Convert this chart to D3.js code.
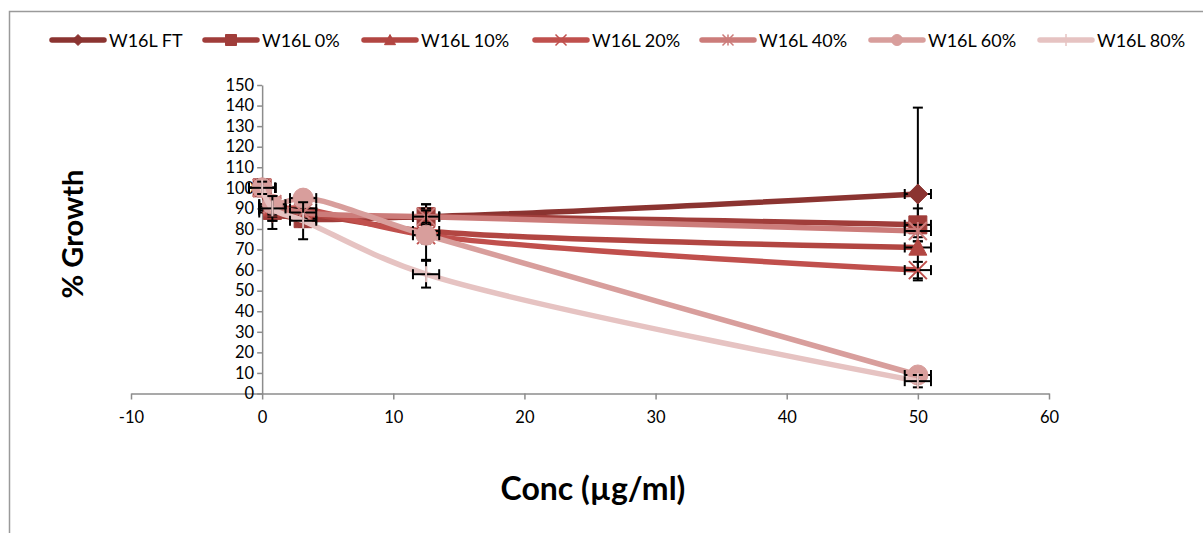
<!DOCTYPE html>
<html><head><meta charset="utf-8">
<script src="https://cdn.jsdelivr.net/npm/d3@7"></script>
<style>
html,body{margin:0;padding:0;background:#fff;}
svg{display:block;font-family:Lato,"Open Sans",sans-serif;}
</style></head>
<body>
<svg id="chart" width="1203" height="533"></svg>
<script>
// ---- data ----
const concentrations = [0, 0.78, 3.125, 12.5, 50];
const seriesNames = ["W16L FT","W16L 0%","W16L 10%","W16L 20%","W16L 40%","W16L 60%","W16L 80%"];
const ftValues  = [100, 88, 86, 86, 97];
const p0Values  = [100, 89, 85, 86, 82];
const p10Values = [100, 90, 88, 79, 71];
const p20Values = [100, 91, 90, 77, 60];
const p40Values = [100, 92, 88, 86, 79];
const p60Values = [100, 92, 95, 77, 9];
const p80Values = [100, 90, 84, 58, 6];
const ftErr  = [4, 8, 4, 6, 42];
const p0Err  = [4, 5, 4, 6, 8];
const p10Err = [3, 4, 3, 4, 3];
const p20Err = [3, 4, 3, 4, 4];
const p40Err = [3, 4, 3, 4, 3];
const p60Err = [4, 4, 3, 12, 3];
const p80Err = [3, 6, 9, 6.5, 3];
const xErr = 1;
const xTicks = [-10, 0, 10, 20, 30, 40, 50, 60];
const yTicks = [0,10,20,30,40,50,60,70,80,90,100,110,120,130,140,150];
const colors = ["#8B3431","#A03D3A","#B24642","#C0504D","#CC7C7A","#D89E9C","#E6C3C2"];
const markers = ["diamond","square","triangle","x","star","circle","plus"];

const allValues = [ftValues,p0Values,p10Values,p20Values,p40Values,p60Values,p80Values];
const allErr = [ftErr,p0Err,p10Err,p20Err,p40Err,p60Err,p80Err];
const series = seriesNames.map((n,i)=>({name:n,color:colors[i],marker:markers[i],
  pts: concentrations.map((c,j)=>({x:c,y:allValues[i][j],e:allErr[i][j]}))}));

const svg = d3.select("#chart");
// outer frame
svg.append("rect").attr("x",9.5).attr("y",11.5).attr("width",1300).attr("height",600)
  .attr("fill","none").attr("stroke","#9a9a9a").attr("stroke-width",1.5);

const x = d3.scaleLinear().domain([-10,60]).range([131,1049]);
const y = d3.scaleLinear().domain([0,150]).range([393.5,85]);

// x axis
const xAxisG = svg.append("g").attr("transform",`translate(0,${y(0)})`)
  .call(d3.axisBottom(x).tickValues(xTicks).tickFormat(d=>String(d)).tickSize(6).tickSizeOuter(0).tickPadding(12));
// y axis
const yAxisG = svg.append("g").attr("transform",`translate(${x(0)},0)`)
  .call(d3.axisLeft(y).tickValues(yTicks).tickFormat(d=>String(d)).tickSize(5).tickSizeOuter(0).tickPadding(3));
[xAxisG,yAxisG].forEach(g=>{
  g.select(".domain").attr("stroke","#8c8c8c").attr("stroke-width",1.5);
  g.selectAll(".tick line").attr("stroke","#8c8c8c").attr("stroke-width",1.5);
  g.selectAll(".tick text").attr("fill","#000").style("font-size","16.5px").style("font-family","Lato,sans-serif");
});

// axis titles
svg.append("text").attr("x",593).attr("y",500).attr("text-anchor","middle")
  .style("font-size","32px").style("font-weight","bold").text("Conc (µg/ml)");
svg.append("text").attr("transform",`translate(83,234) rotate(-90)`).attr("text-anchor","middle")
  .style("font-size","29px").style("font-weight","bold").text("% Growth");

function markerPath(type, s){
  const h=s/2;
  switch(type){
    case "diamond": return `M0,${-h}L${h},0L0,${h}L${-h},0Z`;
    case "square": return `M${-h},${-h}H${h}V${h}H${-h}Z`;
    case "triangle": return `M0,${-h}L${h},${h*0.85}L${-h},${h*0.85}Z`;
    case "circle": return d3.arc()({innerRadius:0,outerRadius:h,startAngle:0,endAngle:2*Math.PI});
    case "x": return `M${-h},${-h}L${h},${h}M${-h},${h}L${h},${-h}`;
    case "star": return `M${-h},${-h}L${h},${h}M${-h},${h}L${h},${-h}M0,${-h}V${h}`;
    case "plus": return `M0,${-h}V${h}`;
  }
}
const strokeOnly = t => (t==="x"||t==="star"||t==="plus");

const line = d3.line().x(d=>x(d.x)).y(d=>y(d.y)).curve(d3.curveCatmullRom.alpha(0.5));
const plot = svg.append("g");

series.forEach(s=>{
  const g = plot.append("g");
  g.append("path").attr("d",line(s.pts)).attr("fill","none").attr("stroke",s.color)
    .attr("stroke-width",5.5).attr("stroke-linejoin","round").attr("stroke-linecap","round");
  const eb = g.append("g").attr("stroke","#000").attr("stroke-width",2);
  s.pts.forEach(p=>{
    eb.append("line").attr("x1",x(p.x)).attr("x2",x(p.x)).attr("y1",y(p.y-p.e)).attr("y2",y(p.y+p.e));
    [p.y-p.e,p.y+p.e].forEach(v=>eb.append("line").attr("x1",x(p.x)-5).attr("x2",x(p.x)+5).attr("y1",y(v)).attr("y2",y(v)));
    eb.append("line").attr("x1",x(p.x-xErr)).attr("x2",x(p.x+xErr)).attr("y1",y(p.y)).attr("y2",y(p.y));
    [p.x-xErr,p.x+xErr].forEach(v=>eb.append("line").attr("x1",x(v)).attr("x2",x(v)).attr("y1",y(p.y)-5).attr("y2",y(p.y)+5));
  });
  const size = s.marker==="plus"?16:(s.marker==="circle"?20:(s.marker==="diamond"?20:18));
  s.pts.forEach(p=>{
    g.append("path").attr("transform",`translate(${x(p.x)},${y(p.y)})`)
      .attr("d",markerPath(s.marker,size))
      .attr("fill",strokeOnly(s.marker)?"none":s.color)
      .attr("stroke",s.color).attr("stroke-width",strokeOnly(s.marker)?2:1);
  });
});

// legend
const legendX = [50,203,362,533,700,869,1038];
series.forEach((s,i)=>{
  const lg = svg.append("g").attr("transform",`translate(${legendX[i]},40)`);
  lg.append("line").attr("x1",2).attr("x2",54).attr("y1",0).attr("y2",0)
    .attr("stroke",s.color).attr("stroke-width",5.5).attr("stroke-linecap","round");
  lg.append("path").attr("transform","translate(28,0)").attr("d",markerPath(s.marker,s.marker==="plus"?12:11))
    .attr("fill",strokeOnly(s.marker)?"none":s.color).attr("stroke",s.color).attr("stroke-width",strokeOnly(s.marker)?1.5:1);
  lg.append("text").attr("x",59).attr("y",6.5).style("font-size","18px").attr("fill","#000").text(s.name);
});
</script>
</body></html>
